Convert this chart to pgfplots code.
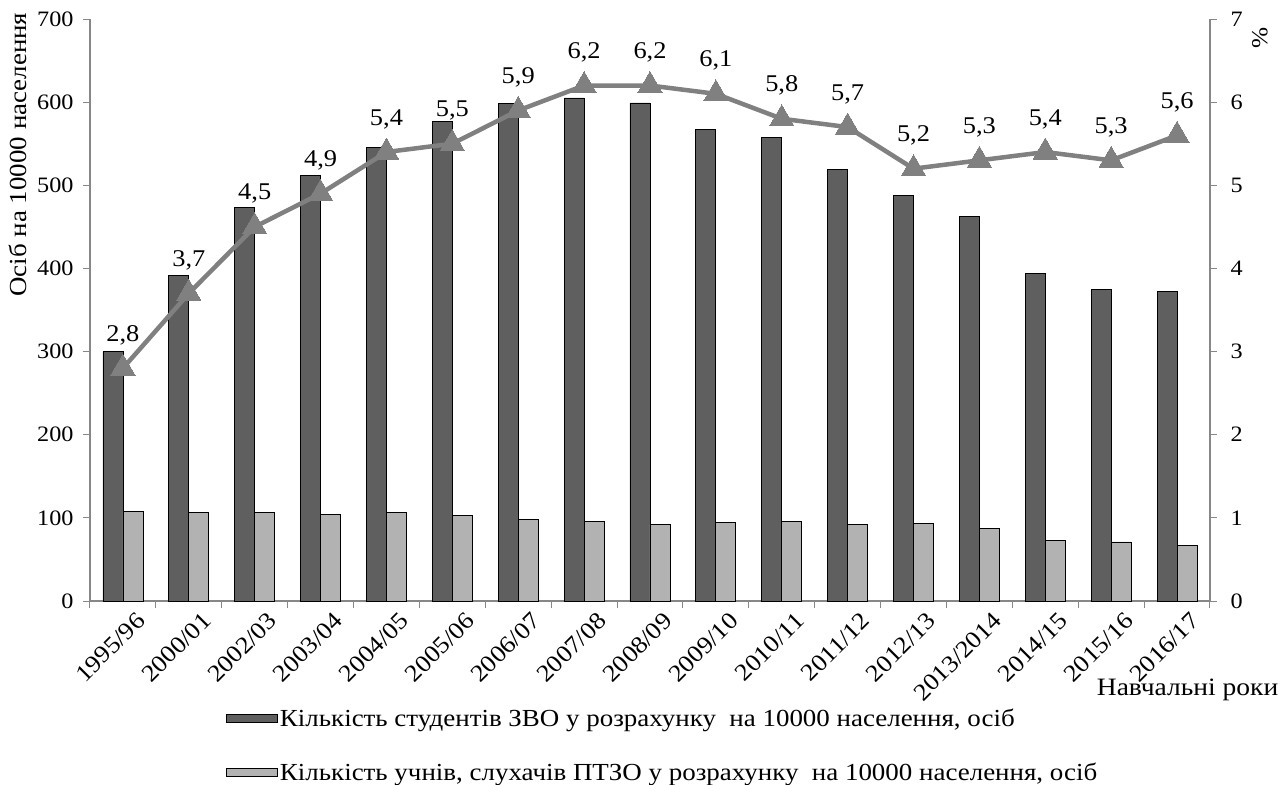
\documentclass[border=0pt]{standalone}
\usepackage{fontspec}
\setmainfont[FakeStretch=1.1]{Liberation Serif}
\usepackage{pgfplots}
\usepackage{pgfplotstable}
\pgfplotsset{compat=1.18}
\definecolor{barDark}{HTML}{5F5F5F}
\definecolor{barLight}{HTML}{B2B2B2}
\definecolor{lineGray}{HTML}{808080}
\definecolor{axisGray}{HTML}{878787}
\newcommand{\fs}[1]{\fontsize{#1}{#1}\selectfont}

% students and vocational pupils per 10000 inhabitants
\pgfplotstableread{
x stud ptzo
0  300 108
1  392 107
2  473 106
3  512 104
4  545 106
5  577 103
6  598 98
7  605 96
8  599 92
9  567 95
10 557 96
11 519 92
12 488 93
13 463 87
14 394 73
15 375 71
16 372 67
}\bars

% share, %
\pgfplotstableread{
x pct
0  2.8
1  3.7
2  4.5
3  4.9
4  5.4
5  5.5
6  5.9
7  6.2
8  6.2
9  6.1
10 5.8
11 5.7
12 5.2
13 5.3
14 5.4
15 5.3
16 5.6
}\share

\begin{document}
\begin{tikzpicture}
\useasboundingbox (-90bp,-184bp) rectangle (1196bp,601bp);
\begin{axis}[
    at={(0,0)}, anchor=south west, scale only axis,
    width=1120bp, height=582bp,
    clip=false,
    xmin=-0.5, xmax=16.5, ymin=0, ymax=700,
    axis x line*=bottom, axis y line*=left,
    axis line style={-, draw=axisGray, line width=1.2bp},
    ybar=0pt, bar width=20bp,
    ytick={0,100,...,700},
    xtick={0,...,16},
    xticklabels={1995/96,2000/01,2002/03,2003/04,2004/05,2005/06,2006/07,2007/08,2008/09,2009/10,2010/11,2011/12,2012/13,2013/2014,2014/15,2015/16,2016/17},
    minor xtick={-0.5,0.5,...,16.5},
    major x tick style={draw=none},
    minor x tick style={draw=axisGray, line width=1bp},
    major y tick style={draw=axisGray, line width=1bp},
    tick align=outside,
    major tick length=7bp, minor tick length=7bp,
    /pgf/number format/assume math mode=true,
    yticklabel style={font=\fs{22bp}, xshift=-6bp},
    xticklabel style={font=\fs{24bp}, rotate=45, anchor=east, xshift=10bp, yshift=-19bp},
    legend style={at={(rel axis cs:0.1214,-0.182)}, anchor=north west,
        draw=none, fill=none, inner sep=0pt, row sep=31bp, font=\fs{24.5bp}},
    legend cell align=left,
    legend image code/.code={\draw[#1, line width=0.8bp] (0bp,-4bp) rectangle (51bp,4bp);},
]
\addplot[fill=barDark, draw=black, line width=0.8bp] table[x=x,y=stud]{\bars};
\addlegendentry{Кількість студентів ЗВО у розрахунку\ \ на 10000 населення, осіб}
\addplot[fill=barLight, draw=black, line width=0.8bp] table[x=x,y=ptzo]{\bars};
\addlegendentry{Кількість учнів, слухачів ПТЗО у розрахунку\ \ на 10000 населення, осіб}
\node[font=\fs{25bp}] at (rel axis cs:0.980,-0.153) {Навчальні роки};
\node[font=\fs{24.5bp}, rotate=90, anchor=east] at (rel axis cs:-0.0643,1.017) {Осіб на 10000 населення};
\end{axis}
\begin{axis}[
    at={(0,0)}, anchor=south west, scale only axis,
    width=1120bp, height=582bp,
    clip=false,
    xmin=-0.5, xmax=16.5, ymin=0, ymax=7,
    axis x line=none, axis y line*=right,
    axis line style={-, draw=axisGray, line width=1.2bp},
    ytick={0,...,7},
    tick align=outside,
    major tick length=7bp,
    major y tick style={draw=axisGray, line width=1bp},
    /pgf/number format/assume math mode=true,
    yticklabel style={font=\fs{22bp}, xshift=10bp},
]
\addplot[draw=lineGray, line width=4.5bp, mark=triangle*, mark size=14bp,
    mark options={fill=lineGray, draw=lineGray, line width=0pt},
    point meta=y,
    nodes near coords={\pgfmathprintnumber[use comma,fixed,fixed zerofill,precision=1]{\pgfplotspointmeta}},
    every node near coord/.append style={font=\fs{24bp}, text=black, anchor=base, yshift=27bp, inner sep=0pt},
] table[x=x,y=pct]{\share};
\node[font=\fs{23bp}, rotate=90] at (rel axis cs:1.0446,0.967) {\%};
\end{axis}
\end{tikzpicture}
\end{document}
